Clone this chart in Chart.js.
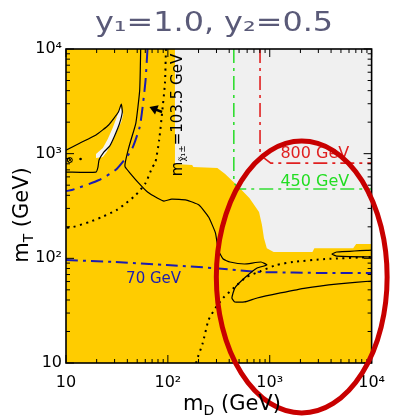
<!DOCTYPE html>
<html><head><meta charset="utf-8">
<script src="https://cdn.jsdelivr.net/npm/chart.js@4.4.0/dist/chart.umd.min.js"></script>
<style>html,body{margin:0;padding:0;background:#fff;}#wrap{width:395px;height:419px;}</style>
</head><body><div id="wrap"><canvas id="c" width="395" height="419"></canvas></div>
<script>
// ---- tick values / labels ----
const xTicks = [10, 100, 1000, 10000];
const yTicks = [10, 100, 1000, 10000];
const tickLabels = ['10', '10\u00B2', '10\u00B3', '10\u2074'];
const minorMultipliers = [2, 3, 4, 5, 6, 7, 8, 9];

// ---- allowed (grey) region: lower boundary, filled up to the top of the plot ----
const allowedBoundary = [[117,10000],[117,796],[173,778],[178,745],[306,728],[365,638],[485,491],[631,377],[785,277],[839,208],[877,156],[936,125],[1092,115],[2626,115],[2742,125],[6590,125],[7050,137],[10000,137]];
// small allowed sliver at upper left
const allowedSliver = [[34.2,2850],[36.5,2390],[34.9,2005],[32.0,1680],[29.9,1440],[27.4,1208],[25.1,1035],[23.0,928],[19.7,908],[19.7,991],[23.0,1130],[25.7,1377],[28.7,1760],[31.3,2190],[34.2,2850]];

// ---- black solid contours ----
const contourLoop = [[10,1080],[13.6,1260],[19.7,1510],[26.2,1880],[32.7,2500],[34.9,2980],[35.7,2500],[33.4,1920],[29.9,1470],[26.8,1180],[23.5,1035],[21.1,869],[20.6,745],[19.7,667],[10,667]];
const contourMain = [[54.1,10000],[52.9,4050],[48.5,1960],[43.4,1350],[40.7,1080],[38.1,813],[38.1,745],[42.5,653],[50.7,535],[63.1,430],[78.6,377],[91.6,352],[109,368],[152,360],[202,323],[251,248],[293,175],[313,120],[349,98.5],[407,92.2],[565,88.3],[821,92.2],[936,86.4],[752,80.8],[565,64.8],[454,52.0],[425,41.8],[454,38.3],[565,38.3],[752,41.8],[1273,46.7],[2249,52.0],[4747,56.9],[10000,60.7]];
const contourRight = [[10000,120],[4540,115],[4074,110],[4540,105],[10000,103]];

// ---- dotted m_chi = 103.5 GeV curves ----
const dottedUpper = [[95.7,10000],[93.6,4720],[87.7,2440],[82.1,1350],[75.2,813],[70.5,745],[60.4,524],[48.5,403],[38.9,337],[31.3,289],[22.5,248],[16.9,222],[11.7,199],[10,195]];
const dottedLower = [[189,10],[197,11.4],[220,15.5],[251,25.8],[293,33.5],[349,41.8],[454,53.2],[590,66.2],[821,75.7],[1166,86.4],[1693,92.2],[3490,98.4],[10000,103]];

// ---- dash-dot contours ----
const blue70 = [[10,96.3],[30.6,92.2],[97.8,86.4],[274,80.8],[821,74.0],[3490,72.4],[10000,72.4]];
const blueUpper = [[63.1,10000],[60.4,5050],[56.5,2790],[52.9,1800],[45.4,1160],[40.7,970],[30.6,697],[21.1,560],[11.4,449],[10,439]];
const green450 = [[444,10000],[444,524],[507,459],[10000,459]];
const red800 = [[803,10000],[803,970],[1023,813],[10000,813]];

// ---- markers at left edge ----
const markerRing = [[10.9,869]];
const markerDot = [[13.9,888]];

// ---- annotations (data-space anchors) ----
const labels = [
  {text:'800 GeV', at:[1273,908], color:'#e02020', size:16},
  {text:'450 GeV', at:[1273,491], color:'#22dd22', size:16},
  {text:'70 GeV', at:[38.9,58.1], color:'#1c1cb0', size:15}
];
const rotatedLabelCenter = [127, 2340];
const arrowTail = [87.7, 2500];
const arrowHead = [65.9, 2790];
const ellipseBox = {xMin:299, xMax:14200, yMin:3.33, yMax:1320};

const YELLOW = '#ffcc00', GREY = '#f0f0f0';
function pts(a){return a.map(p=>({x:p[0],y:p[1]}));}
function line(a,color,width,dash,tension){return {data:pts(a),showLine:true,borderColor:color,borderWidth:width,borderDash:dash||[],pointRadius:0,fill:false,tension:tension||0,order:1};}

const datasets = [
  {data:pts(allowedBoundary),showLine:true,borderWidth:0,borderColor:GREY,backgroundColor:GREY,fill:'end',pointRadius:0,order:10},
  {data:pts(allowedSliver),showLine:true,borderWidth:0,borderColor:'#f4f4f4',backgroundColor:'#f4f4f4',fill:'shape',pointRadius:0,order:9},
  line(contourLoop,'#000',1.2,[],0.15),
  line(contourMain,'#000',1.2,[],0.15),
  line(contourRight,'#000',1.2,[],0.1),
  line(dottedUpper,'#000',2,[2,4.5],0.2),
  line(dottedLower,'#000',2,[2,4.5],0.2),
  line(blue70,'#1c1cb0',2,[12,5,3,5],0.1),
  line(blueUpper,'#1c1cb0',2,[14,6,3,6],0.2),
  line(green450,'#33dd33',1.6,[14,5,3,5],0),
  line(red800,'#e02020',1.6,[14,5,3,5],0),
  {data:pts(markerRing),pointRadius:3,pointBorderColor:'#000',pointBackgroundColor:'rgba(0,0,0,0)',pointBorderWidth:1,pointStyle:'crossRot',showLine:false,order:0},
  {data:pts(markerRing),pointRadius:2.5,pointBorderColor:'#000',pointBackgroundColor:'rgba(0,0,0,0)',pointBorderWidth:1,showLine:false,order:0},
  {data:pts(markerDot),pointRadius:1.3,pointBorderColor:'#000',pointBackgroundColor:'#000',pointBorderWidth:0,showLine:false,order:0}
];

function textWithSub(ctx, parts, x, y, align){
  let total=0; parts.forEach(p=>{ctx.font=p.size+'px "DejaVu Sans"'; p.w=ctx.measureText(p.t).width; total+=p.w;});
  let cx = align==='center'? x-total/2 : x;
  parts.forEach(p=>{ctx.font=p.size+'px "DejaVu Sans"'; ctx.fillText(p.t,cx,y+(p.dy||0)); cx+=p.w;});
}

const decor = {
  id:'decor',
  beforeDatasetsDraw(chart){
    const {ctx,chartArea:a}=chart;
    ctx.save(); ctx.fillStyle=YELLOW; ctx.fillRect(a.left,a.top,a.right-a.left,a.bottom-a.top); ctx.restore();
  },
  afterDatasetsDraw(chart){
    const {ctx,chartArea:a,scales:{x,y}}=chart;
    ctx.save();
    ctx.strokeStyle='#000'; ctx.lineWidth=1;
    const tk=(px,len,horizontal)=>{ctx.beginPath(); if(horizontal){ctx.moveTo(px,a.bottom);ctx.lineTo(px,a.bottom-len);ctx.moveTo(px,a.top);ctx.lineTo(px,a.top+len);} else {ctx.moveTo(a.left,px);ctx.lineTo(a.left+len,px);ctx.moveTo(a.right,px);ctx.lineTo(a.right-len,px);} ctx.stroke();};
    xTicks.forEach(v=>{tk(x.getPixelForValue(v),8,true); minorMultipliers.forEach(m=>{if(v*m<10000) tk(x.getPixelForValue(v*m),4,true);});});
    yTicks.forEach(v=>{tk(y.getPixelForValue(v),8,false); minorMultipliers.forEach(m=>{if(v*m<10000) tk(y.getPixelForValue(v*m),4,false);});});
    ctx.lineWidth=1.6; ctx.strokeRect(a.left,a.top,a.right-a.left,a.bottom-a.top);
    ctx.textAlign='left'; ctx.textBaseline='alphabetic';
    labels.forEach(l=>{ctx.fillStyle=l.color; ctx.font=l.size+'px "DejaVu Sans"'; ctx.fillText(l.text,x.getPixelForValue(l.at[0]),y.getPixelForValue(l.at[1]));});
    ctx.save();
    ctx.translate(x.getPixelForValue(rotatedLabelCenter[0]),y.getPixelForValue(rotatedLabelCenter[1]));
    ctx.rotate(-Math.PI/2); ctx.fillStyle='#000'; ctx.textBaseline='middle';
    textWithSub(ctx,[{t:'m',size:15},{t:'\u03C7\u0303\u2081\u00B1',size:9,dy:4},{t:'=103.5 GeV',size:15}],0,0,'center');
    ctx.restore();
    const tx=x.getPixelForValue(arrowTail[0]), ty=y.getPixelForValue(arrowTail[1]);
    const hx=x.getPixelForValue(arrowHead[0]), hy=y.getPixelForValue(arrowHead[1]);
    const ang=Math.atan2(hy-ty,hx-tx);
    ctx.strokeStyle='#000'; ctx.fillStyle='#000'; ctx.lineWidth=2.5;
    ctx.beginPath(); ctx.moveTo(tx,ty); ctx.lineTo(hx-5*Math.cos(ang),hy-5*Math.sin(ang)); ctx.stroke();
    ctx.beginPath(); ctx.moveTo(hx,hy);
    ctx.lineTo(hx-8*Math.cos(ang)+5*Math.sin(ang),hy-8*Math.sin(ang)-5*Math.cos(ang));
    ctx.lineTo(hx-8*Math.cos(ang)-5*Math.sin(ang),hy-8*Math.sin(ang)+5*Math.cos(ang));
    ctx.closePath(); ctx.fill();
    const l=x.getPixelForValue(ellipseBox.xMin), r=x.getPixelForValue(ellipseBox.xMax);
    const t=y.getPixelForValue(ellipseBox.yMax), b=y.getPixelForValue(ellipseBox.yMin);
    ctx.strokeStyle='#c80000'; ctx.lineWidth=5;
    ctx.beginPath(); ctx.ellipse((l+r)/2,(t+b)/2,(r-l)/2,(b-t)/2,0,0,Math.PI*2); ctx.stroke();
    ctx.fillStyle='#5a5a78'; ctx.textAlign='center'; ctx.textBaseline='alphabetic';
    ctx.font='26px "DejaVu Sans"';
    const title='y\u2081=1.0, y\u2082=0.5';
    const w=ctx.measureText(title).width;
    ctx.save(); ctx.translate(214,31); ctx.scale(238/w,1); ctx.fillText(title,0,0); ctx.restore();
    ctx.fillStyle='#000'; ctx.textAlign='left';
    textWithSub(ctx,[{t:'m',size:21},{t:'D',size:14,dy:5},{t:' (GeV)',size:21}],232,410,'center');
    ctx.save(); ctx.translate(28,215); ctx.rotate(-Math.PI/2);
    textWithSub(ctx,[{t:'m',size:21},{t:'T',size:14,dy:5},{t:' (GeV)',size:21}],0,0,'center');
    ctx.restore();
    ctx.restore();
  }
};

const tickFont = {family:'DejaVu Sans', size:16};
new Chart(document.getElementById('c'),{
  type:'scatter',
  data:{datasets},
  options:{
    responsive:false, animation:false, events:[],
    layout:{padding:{top:49,right:14,left:0,bottom:0}},
    plugins:{legend:{display:false},tooltip:{enabled:false},title:{display:false}},
    scales:{
      x:{type:'logarithmic',min:10,max:10000,
         afterBuildTicks:s=>{s.ticks=xTicks.map(v=>({value:v}));},
         afterFit:s=>{s.height=56;},
         grid:{display:false,drawTicks:false},border:{display:false},
         ticks:{font:tickFont,color:'#000',padding:10,maxRotation:0,autoSkip:false,
                callback:v=>{const i=xTicks.indexOf(v);return i>=0?tickLabels[i]:'';}}},
      y:{type:'logarithmic',min:10,max:10000,
         afterBuildTicks:s=>{s.ticks=yTicks.map(v=>({value:v}));},
         afterFit:s=>{s.width=66;},
         grid:{display:false,drawTicks:false},border:{display:false},
         ticks:{font:tickFont,color:'#000',padding:4,autoSkip:false,
                callback:v=>{const i=yTicks.indexOf(v);return i>=0?tickLabels[i]:'';}}}
    }
  },
  plugins:[decor]
});
</script></body></html>
